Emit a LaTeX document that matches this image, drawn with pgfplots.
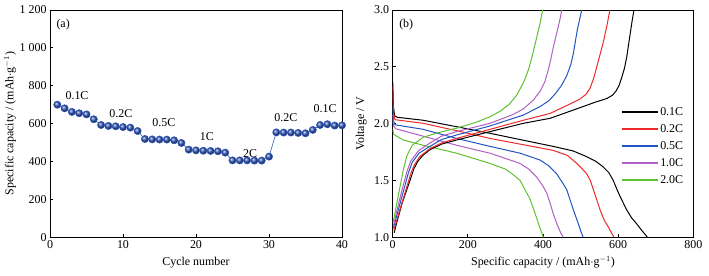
\documentclass[border=0pt]{standalone}
\usepackage{pgfplots}
\pgfplotsset{compat=1.18}
\usepackage{fontspec}
\setmainfont{Liberation Serif}
\definecolor{ballblue}{HTML}{3158BA}
\definecolor{cred}{HTML}{F02828}
\definecolor{cblue}{HTML}{2255C0}
\definecolor{cpurple}{HTML}{B060C4}
\definecolor{cgreen}{HTML}{60C030}
\begin{document}
\begin{tikzpicture}[font=\fontsize{12}{14}\selectfont]
\useasboundingbox (-50bp,-38bp) rectangle (659bp,237.3bp);
\pgfplotsset{
  every axis/.append style={
    scale only axis,
    height=227.3bp,
    axis line style={black, line width=0.8bp},
    tick style={black, line width=0.8bp},
    tick align=inside,
    tick pos=left,
    major tick length=3bp,
    /pgf/number format/assume math mode=true,
    label style={font=\fontsize{12}{14}\selectfont},
    ticklabel style={font=\fontsize{12}{14}\selectfont},
  }
}
\begin{axis}[
  name=left,
  at={(0,0)}, anchor=south west,
  width=292bp,
  xmin=0, xmax=40, ymin=0, ymax=1200,
  xtick={0,10,20,30,40},
  ytick={0,200,400,600,800,1000,1200},
  /pgf/number format/1000 sep={\hspace{0.25em}},
  xlabel={Cycle number},
  ylabel={Specific capacity / (mAh$\cdot$g$^{-1}$)},
  xlabel style={at={(axis description cs:0.5,-0.11)}, anchor=center},
  ylabel style={at={(axis description cs:-0.137,0.5)}, anchor=center},
  clip=false,
]
\addplot[draw=ballblue, line width=0.6bp, mark=ball, mark size=3.6bp, mark options={ball color=ballblue}] coordinates {
(1,700) (2,681) (3,662) (4,655) (5,649) (6,623) (7,593) (8,588) (9,586) (10,582)
(11,579) (12,561) (13,519) (14,517) (15,516) (16,516) (17,512) (18,498) (19,463) (20,459)
(21,457) (22,456) (23,454) (24,447) (25,406) (26,406) (27,406) (28,405) (29,405) (30,426)
(31,554) (32,553) (33,553) (34,551) (35,549) (36,567) (37,593) (38,597) (39,590) (40,591)
};
\node at (axis cs:3.7,750) {0.1C};
\node at (axis cs:9.7,655) {0.2C};
\node at (axis cs:15.6,603) {0.5C};
\node at (axis cs:21.5,529) {1C};
\node at (axis cs:27.4,444) {2C};
\node at (axis cs:32.3,634) {0.2C};
\node at (axis cs:37.7,682) {0.1C};
\node at (axis description cs:0.045,0.934) {(a)};
\end{axis}

\begin{axis}[
  at={(342.7bp,0)}, anchor=south west,
  width=300.6bp,
  xmin=0, xmax=800, ymin=1, ymax=3,
  xtick={0,200,400,600,800},
  ytick={1,1.5,2,2.5,3},
  yticklabel style={/pgf/number format/.cd, fixed, fixed zerofill, precision=1},
  xlabel={Specific capacity / (mAh$\cdot$g$^{-1}$)},
  ylabel={Voltage / V},
  xlabel style={at={(axis description cs:0.5,-0.11)}, anchor=center},
  ylabel style={at={(axis description cs:-0.105,0.5)}, anchor=center},
  legend style={draw=none, fill=none, at={(rel axis cs:0.759,0.579)}, anchor=north west,
    inner sep=0pt, row sep=4.5bp, nodes={inner sep=1.5bp}, font=\fontsize{12}{14}\selectfont},
  legend cell align=left,
  legend image code/.code={\draw[#1, line width=1.7bp] (0bp,0bp) -- (36bp,0bp);},
  every axis plot/.append style={line width=1bp},
]
% discharge curves (with legend)
\addplot[black] coordinates {
(0,2.37) (2,2.15) (5,2.07) (12,2.056) (81,2.03) (170,1.973) (259,1.915) (339,1.86) (427,1.80)
(480,1.76) (516,1.71) (540,1.67) (560,1.62) (575,1.57) (587,1.50) (597,1.42) (605,1.36) (614,1.30)
(623,1.24) (636,1.17) (649,1.12) (663,1.06) (678,1.0)};
\addlegendentry{0.1C}
\addplot[cred] coordinates {
(0,2.33) (2,2.1) (6,2.035) (81,2.003) (170,1.938) (259,1.87) (339,1.82) (427,1.765) (465,1.72)
(490,1.65) (505,1.60) (516,1.56) (526,1.50) (534,1.42) (543,1.33) (552,1.24) (563,1.15)
(574,1.09) (582,1.04) (589,1.0)};
\addlegendentry{0.2C}
\addplot[cblue] coordinates {
(0,2.15) (2,2.03) (6,1.99) (81,1.95) (170,1.87) (259,1.80) (339,1.74) (392,1.68) (415,1.63)
(436,1.56) (450,1.49) (463,1.42) (472,1.33) (481,1.24) (494,1.12) (501,1.05) (507,1.0)};
\addlegendentry{0.5C}
\addplot[cpurple] coordinates {
(0,2.08) (2,1.98) (8,1.955) (81,1.89) (170,1.81) (259,1.74) (339,1.65) (362,1.60) (383,1.53)
(398,1.46) (410,1.39) (419,1.30) (427,1.21) (438,1.11) (447,1.04) (454,1.0)};
\addlegendentry{1.0C}
\addplot[cgreen] coordinates {
(0,1.95) (3,1.905) (28,1.856) (81,1.81) (170,1.74) (259,1.65) (300,1.60) (321,1.55) (339,1.50)
(352,1.42) (365,1.34) (379,1.21) (390,1.10) (401,1.0)};
\addlegendentry{2.0C}
% charge curves
\addplot[black, forget plot] coordinates {
(4,1.04) (10,1.12) (25,1.30) (46,1.50) (56,1.60) (66,1.665) (80,1.72) (99,1.77) (130,1.82) (170,1.856)
(259,1.93) (348,2.003) (419,2.047) (481,2.12) (540,2.19) (569,2.22) (585,2.25) (595,2.29) (603,2.34)
(609,2.40) (617,2.49) (623,2.59) (632,2.79) (637,2.90) (642,3.0)};
\addplot[cred, forget plot] coordinates {
(3,1.06) (10,1.14) (30,1.36) (48,1.56) (58,1.64) (72,1.71) (99,1.78) (130,1.83) (170,1.87)
(259,1.95) (348,2.03) (419,2.09) (470,2.17) (500,2.22) (515,2.26) (525,2.31) (535,2.40)
(543,2.50) (552,2.61) (560,2.71) (570,2.86) (578,3.0)};
\addplot[cblue, forget plot] coordinates {
(2,1.08) (10,1.18) (28,1.40) (42,1.57) (52,1.66) (70,1.74) (99,1.80) (130,1.86) (170,1.90)
(259,1.98) (348,2.076) (392,2.15) (415,2.20) (432,2.26) (448,2.33) (463,2.42) (474,2.52) (481,2.62)
(491,2.82) (497,2.91) (503,3.0)};
\addplot[cpurple, forget plot] coordinates {
(2,1.10) (10,1.22) (25,1.42) (38,1.58) (48,1.67) (68,1.76) (99,1.83) (130,1.89) (170,1.93)
(259,2.003) (320,2.08) (348,2.13) (375,2.21) (393,2.29) (405,2.37) (413,2.46) (421,2.57)
(428,2.68) (436,2.79) (444,2.90) (450,3.0)};
\addplot[cgreen, forget plot] coordinates {
(1,1.13) (8,1.25) (18,1.42) (28,1.59) (38,1.72) (52,1.81) (81,1.88) (120,1.92) (170,1.96)
(220,2.01) (259,2.06) (286,2.11) (310,2.17) (330,2.25) (348,2.36) (362,2.48) (374,2.63)
(384,2.77) (392,2.88) (399,3.0)};
\node at (axis description cs:0.045,0.934) {(b)};
\end{axis}
\end{tikzpicture}
\end{document}
